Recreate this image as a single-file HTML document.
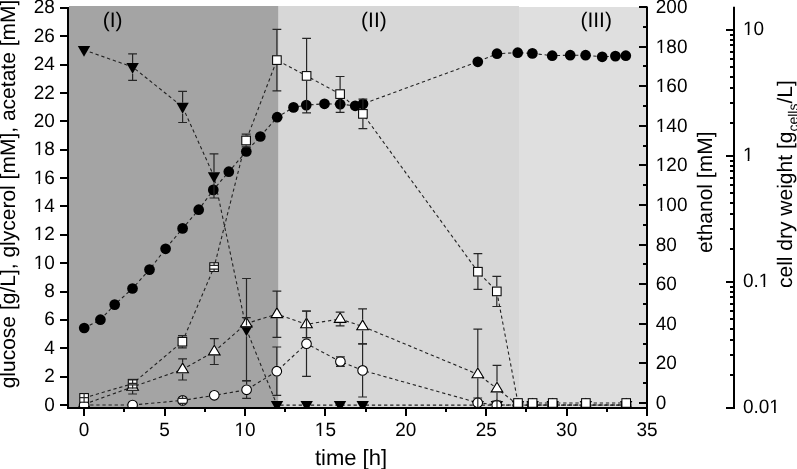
<!DOCTYPE html>
<html><head><meta charset="utf-8"><style>
html,body{margin:0;padding:0;background:#fff;}
body{width:797px;height:469px;overflow:hidden;}
svg{display:block;}
text{text-rendering:geometricPrecision;}
</style></head><body>
<svg width="797" height="469" viewBox="0 0 797 469">
<defs><clipPath id="pc"><rect x="69" y="5" width="577.5" height="402.3"/></clipPath></defs>
<rect x="69" y="6" width="209.6" height="401.3" fill="#a4a4a4"/>
<rect x="278.6" y="6" width="240.4" height="401.3" fill="#d7d7d7"/>
<rect x="519" y="7" width="127.2" height="400.3" fill="#dfdfdf"/>
<g clip-path="url(#pc)">
<polyline points="84.1,405.0 132.6,405.0 182.6,400.4 214.3,395.3 246.6,389.8 276.8,371.2 306.5,343.7 340.4,361.6 362.6,370.4 477.7,402.7 496.7,405.0 518.0,405.0 532.6,405.0 552.7,405.0 585.9,405.0 626.2,405.0" fill="none" stroke="#222" stroke-width="1.1" stroke-dasharray="3.3 2.8"/>
<polyline points="84.1,404.3 132.6,386.9 182.6,369.4 214.3,351.6 246.3,323.5 276.9,314.2 306.5,324.3 340.1,319.0 362.6,326.4 477.8,374.3 497.0,388.5 518.0,405.0 532.6,405.0 552.7,405.0 585.9,405.0 626.2,405.0" fill="none" stroke="#222" stroke-width="1.1" stroke-dasharray="3.3 2.8"/>
<polyline points="84.1,397.9 132.6,383.7 182.4,341.7 214.1,267.1 246.1,140.5 276.9,60.1 306.6,75.9 340.1,94.1 362.9,113.9 477.9,271.7 496.8,291.4 518.0,403.0 532.6,403.0 552.7,403.0 585.9,403.0 626.2,403.0" fill="none" stroke="#222" stroke-width="1.1" stroke-dasharray="3.3 2.8"/>
<polyline points="84.0,50.0 132.6,67.0 182.6,106.9 214.0,176.4 246.5,329.5 277.0,405.1 306.7,405.1 340.0,405.1 362.7,405.1 477.8,405.1 496.9,405.1 518.0,405.1 532.6,405.1 552.7,405.1 585.9,405.1 626.2,405.1" fill="none" stroke="#222" stroke-width="1.1" stroke-dasharray="3.3 2.8"/>
<polyline points="84.2,328.0 100.4,319.7 114.7,304.6 132.5,288.5 149.5,269.6 165.6,248.8 182.6,228.4 198.7,209.7 213.3,189.9 228.8,171.7 246.3,151.5 260.3,136.5 277.2,117.2 293.5,107.4 306.3,105.1 324.5,103.8 340.2,104.2 355.2,105.8 363.0,103.9 477.8,61.8 497.0,53.7 517.7,52.7 532.4,53.4 552.2,55.7 570.2,55.2 585.6,55.2 602.2,56.8 615.4,56.1 625.8,55.7" fill="none" stroke="#222" stroke-width="1.1" stroke-dasharray="3.3 2.8"/>
<path d="M77.8 45.9H90.2L84.0 56.8Z" fill="#000"/>
<path d="M126.4 62.9H138.8L132.6 73.8Z" fill="#000"/>
<path d="M176.4 102.8H188.8L182.6 113.7Z" fill="#000"/>
<path d="M207.8 172.3H220.2L214.0 183.2Z" fill="#000"/>
<path d="M240.3 325.4H252.7L246.5 336.3Z" fill="#000"/>
<path d="M270.8 401.0H283.2L277.0 411.9Z" fill="#000"/>
<path d="M300.5 401.0H312.9L306.7 411.9Z" fill="#000"/>
<path d="M333.8 401.0H346.2L340.0 411.9Z" fill="#000"/>
<path d="M356.5 401.0H368.9L362.7 411.9Z" fill="#000"/>
<path d="M471.6 401.0H484.0L477.8 411.9Z" fill="#000"/>
<path d="M490.7 401.0H503.1L496.9 411.9Z" fill="#000"/>
<path d="M511.8 401.0H524.2L518.0 411.9Z" fill="#000"/>
<path d="M526.4 401.0H538.8L532.6 411.9Z" fill="#000"/>
<path d="M546.5 401.0H558.9L552.7 411.9Z" fill="#000"/>
<path d="M579.7 401.0H592.1L585.9 411.9Z" fill="#000"/>
<path d="M620.0 401.0H632.4L626.2 411.9Z" fill="#000"/>
<path d="M84.1 398.0L89.9 407.7H78.3Z" fill="#fff" stroke="#000" stroke-width="1.1" stroke-linejoin="miter"/>
<path d="M132.6 380.6L138.4 390.3H126.8Z" fill="#fff" stroke="#000" stroke-width="1.1" stroke-linejoin="miter"/>
<path d="M182.6 363.1L188.4 372.8H176.8Z" fill="#fff" stroke="#000" stroke-width="1.1" stroke-linejoin="miter"/>
<path d="M214.3 345.2L220.1 354.9H208.5Z" fill="#fff" stroke="#000" stroke-width="1.1" stroke-linejoin="miter"/>
<path d="M246.3 317.2L252.1 326.9H240.5Z" fill="#fff" stroke="#000" stroke-width="1.1" stroke-linejoin="miter"/>
<path d="M276.9 307.9L282.7 317.6H271.1Z" fill="#fff" stroke="#000" stroke-width="1.1" stroke-linejoin="miter"/>
<path d="M306.5 318.0L312.3 327.7H300.7Z" fill="#fff" stroke="#000" stroke-width="1.1" stroke-linejoin="miter"/>
<path d="M340.1 312.7L345.9 322.4H334.3Z" fill="#fff" stroke="#000" stroke-width="1.1" stroke-linejoin="miter"/>
<path d="M362.6 320.1L368.4 329.8H356.8Z" fill="#fff" stroke="#000" stroke-width="1.1" stroke-linejoin="miter"/>
<path d="M477.8 368.0L483.6 377.7H472.0Z" fill="#fff" stroke="#000" stroke-width="1.1" stroke-linejoin="miter"/>
<path d="M497.0 382.2L502.8 391.9H491.2Z" fill="#fff" stroke="#000" stroke-width="1.1" stroke-linejoin="miter"/>
<path d="M518.0 398.7L523.8 408.4H512.2Z" fill="#fff" stroke="#000" stroke-width="1.1" stroke-linejoin="miter"/>
<path d="M532.6 398.7L538.4 408.4H526.8Z" fill="#fff" stroke="#000" stroke-width="1.1" stroke-linejoin="miter"/>
<path d="M552.7 398.7L558.5 408.4H546.9Z" fill="#fff" stroke="#000" stroke-width="1.1" stroke-linejoin="miter"/>
<path d="M585.9 398.7L591.7 408.4H580.1Z" fill="#fff" stroke="#000" stroke-width="1.1" stroke-linejoin="miter"/>
<path d="M626.2 398.7L632.0 408.4H620.4Z" fill="#fff" stroke="#000" stroke-width="1.1" stroke-linejoin="miter"/>
<circle cx="84.1" cy="405.0" r="4.8" fill="#fff" stroke="#000" stroke-width="1.1"/>
<circle cx="132.6" cy="405.0" r="4.8" fill="#fff" stroke="#000" stroke-width="1.1"/>
<circle cx="182.6" cy="400.4" r="4.8" fill="#fff" stroke="#000" stroke-width="1.1"/>
<circle cx="214.3" cy="395.3" r="4.8" fill="#fff" stroke="#000" stroke-width="1.1"/>
<circle cx="246.6" cy="389.8" r="4.8" fill="#fff" stroke="#000" stroke-width="1.1"/>
<circle cx="276.8" cy="371.2" r="4.8" fill="#fff" stroke="#000" stroke-width="1.1"/>
<circle cx="306.5" cy="343.7" r="4.8" fill="#fff" stroke="#000" stroke-width="1.1"/>
<circle cx="340.4" cy="361.6" r="4.8" fill="#fff" stroke="#000" stroke-width="1.1"/>
<circle cx="362.6" cy="370.4" r="4.8" fill="#fff" stroke="#000" stroke-width="1.1"/>
<circle cx="477.7" cy="402.7" r="4.8" fill="#fff" stroke="#000" stroke-width="1.1"/>
<circle cx="496.7" cy="405.0" r="4.8" fill="#fff" stroke="#000" stroke-width="1.1"/>
<circle cx="518.0" cy="405.0" r="4.8" fill="#fff" stroke="#000" stroke-width="1.1"/>
<circle cx="532.6" cy="405.0" r="4.8" fill="#fff" stroke="#000" stroke-width="1.1"/>
<circle cx="552.7" cy="405.0" r="4.8" fill="#fff" stroke="#000" stroke-width="1.1"/>
<circle cx="585.9" cy="405.0" r="4.8" fill="#fff" stroke="#000" stroke-width="1.1"/>
<circle cx="626.2" cy="405.0" r="4.8" fill="#fff" stroke="#000" stroke-width="1.1"/>
<rect x="79.80" y="393.60" width="8.6" height="8.6" fill="#fff" stroke="#000" stroke-width="1.05"/>
<rect x="128.30" y="379.40" width="8.6" height="8.6" fill="#fff" stroke="#000" stroke-width="1.05"/>
<rect x="178.10" y="337.40" width="8.6" height="8.6" fill="#fff" stroke="#000" stroke-width="1.05"/>
<rect x="209.80" y="262.80" width="8.6" height="8.6" fill="#fff" stroke="#000" stroke-width="1.05"/>
<rect x="241.80" y="136.20" width="8.6" height="8.6" fill="#fff" stroke="#000" stroke-width="1.05"/>
<rect x="272.60" y="55.80" width="8.6" height="8.6" fill="#fff" stroke="#000" stroke-width="1.05"/>
<rect x="302.30" y="71.60" width="8.6" height="8.6" fill="#fff" stroke="#000" stroke-width="1.05"/>
<rect x="335.80" y="89.80" width="8.6" height="8.6" fill="#fff" stroke="#000" stroke-width="1.05"/>
<rect x="358.60" y="109.60" width="8.6" height="8.6" fill="#fff" stroke="#000" stroke-width="1.05"/>
<rect x="473.60" y="267.40" width="8.6" height="8.6" fill="#fff" stroke="#000" stroke-width="1.05"/>
<rect x="492.50" y="287.10" width="8.6" height="8.6" fill="#fff" stroke="#000" stroke-width="1.05"/>
<rect x="513.70" y="398.70" width="8.6" height="8.6" fill="#fff" stroke="#000" stroke-width="1.05"/>
<rect x="528.30" y="398.70" width="8.6" height="8.6" fill="#fff" stroke="#000" stroke-width="1.05"/>
<rect x="548.40" y="398.70" width="8.6" height="8.6" fill="#fff" stroke="#000" stroke-width="1.05"/>
<rect x="581.60" y="398.70" width="8.6" height="8.6" fill="#fff" stroke="#000" stroke-width="1.05"/>
<rect x="621.90" y="398.70" width="8.6" height="8.6" fill="#fff" stroke="#000" stroke-width="1.05"/>
<circle cx="84.2" cy="328.0" r="5.35" fill="#000"/>
<circle cx="100.4" cy="319.7" r="5.35" fill="#000"/>
<circle cx="114.7" cy="304.6" r="5.35" fill="#000"/>
<circle cx="132.5" cy="288.5" r="5.35" fill="#000"/>
<circle cx="149.5" cy="269.6" r="5.35" fill="#000"/>
<circle cx="165.6" cy="248.8" r="5.35" fill="#000"/>
<circle cx="182.6" cy="228.4" r="5.35" fill="#000"/>
<circle cx="198.7" cy="209.7" r="5.35" fill="#000"/>
<circle cx="213.3" cy="189.9" r="5.35" fill="#000"/>
<circle cx="228.8" cy="171.7" r="5.35" fill="#000"/>
<circle cx="246.3" cy="151.5" r="5.35" fill="#000"/>
<circle cx="260.3" cy="136.5" r="5.35" fill="#000"/>
<circle cx="277.2" cy="117.2" r="5.35" fill="#000"/>
<circle cx="293.5" cy="107.4" r="5.35" fill="#000"/>
<circle cx="306.3" cy="105.1" r="5.35" fill="#000"/>
<circle cx="324.5" cy="103.8" r="5.35" fill="#000"/>
<circle cx="340.2" cy="104.2" r="5.35" fill="#000"/>
<circle cx="355.2" cy="105.8" r="5.35" fill="#000"/>
<circle cx="363.0" cy="103.9" r="5.35" fill="#000"/>
<circle cx="477.8" cy="61.8" r="5.35" fill="#000"/>
<circle cx="497.0" cy="53.7" r="5.35" fill="#000"/>
<circle cx="517.7" cy="52.7" r="5.35" fill="#000"/>
<circle cx="532.4" cy="53.4" r="5.35" fill="#000"/>
<circle cx="552.2" cy="55.7" r="5.35" fill="#000"/>
<circle cx="570.2" cy="55.2" r="5.35" fill="#000"/>
<circle cx="585.6" cy="55.2" r="5.35" fill="#000"/>
<circle cx="602.2" cy="56.8" r="5.35" fill="#000"/>
<circle cx="615.4" cy="56.1" r="5.35" fill="#000"/>
<circle cx="625.8" cy="55.7" r="5.35" fill="#000"/>
<path d="M79.70 397.60H88.50M79.70 397.60H88.50M84.10 393.10V397.60M84.10 402.70V397.60" stroke="#262626" stroke-width="1.2" fill="none"/>
<path d="M128.20 383.30H137.00M128.20 384.80H137.00M132.60 378.90V383.30M132.60 388.50V384.80" stroke="#262626" stroke-width="1.2" fill="none"/>
<path d="M178.00 335.70H186.80M178.00 347.80H186.80M182.40 336.90V335.70M182.40 346.50V347.80" stroke="#262626" stroke-width="1.2" fill="none"/>
<path d="M209.70 265.30H218.50M209.70 269.10H218.50M214.10 262.30V265.30M214.10 271.90V269.10" stroke="#262626" stroke-width="1.2" fill="none"/>
<path d="M241.70 134.10H250.50M241.70 146.90H250.50M246.10 135.70V134.10M246.10 145.30V146.90" stroke="#262626" stroke-width="1.2" fill="none"/>
<path d="M272.50 29.30H281.30M272.50 90.90H281.30M276.90 55.30V29.30M276.90 64.90V90.90" stroke="#262626" stroke-width="1.2" fill="none"/>
<path d="M302.20 38.40H311.00M302.20 112.90H311.00M306.60 71.10V38.40M306.60 80.70V112.90" stroke="#262626" stroke-width="1.2" fill="none"/>
<path d="M335.70 76.50H344.50M335.70 112.40H344.50M340.10 89.30V76.50M340.10 98.90V112.40" stroke="#262626" stroke-width="1.2" fill="none"/>
<path d="M358.50 99.20H367.30M358.50 128.60H367.30M362.90 109.10V99.20M362.90 118.70V128.60" stroke="#262626" stroke-width="1.2" fill="none"/>
<path d="M473.50 253.60H482.30M473.50 289.40H482.30M477.90 266.90V253.60M477.90 276.50V289.40" stroke="#262626" stroke-width="1.2" fill="none"/>
<path d="M492.40 276.30H501.20M492.40 306.50H501.20M496.80 286.60V276.30M496.80 296.20V306.50" stroke="#262626" stroke-width="1.2" fill="none"/>
<path d="M128.20 379.80H137.00M128.20 394.00H137.00M132.60 390.90V394.00" stroke="#262626" stroke-width="1.2" fill="none"/>
<path d="M178.20 358.90H187.00M178.20 380.00H187.00M182.60 362.55V358.90M182.60 373.45V380.00" stroke="#262626" stroke-width="1.2" fill="none"/>
<path d="M209.90 338.60H218.70M209.90 364.50H218.70M214.30 344.65V338.60M214.30 355.55V364.50" stroke="#262626" stroke-width="1.2" fill="none"/>
<path d="M241.90 317.60H250.70M241.90 326.90H250.70M246.30 316.60V317.60M246.30 327.50V326.90" stroke="#262626" stroke-width="1.2" fill="none"/>
<path d="M272.50 291.20H281.30M272.50 337.30H281.30M276.90 307.35V291.20M276.90 318.25V337.30" stroke="#262626" stroke-width="1.2" fill="none"/>
<path d="M302.10 311.00H310.90M302.10 337.60H310.90M306.50 317.40V311.00M306.50 328.30V337.60" stroke="#262626" stroke-width="1.2" fill="none"/>
<path d="M335.70 312.20H344.50M335.70 325.80H344.50M340.10 323.00V325.80" stroke="#262626" stroke-width="1.2" fill="none"/>
<path d="M358.20 308.90H367.00M358.20 343.90H367.00M362.60 319.50V308.90M362.60 330.40V343.90" stroke="#262626" stroke-width="1.2" fill="none"/>
<path d="M473.40 329.20H482.20M473.40 419.40H482.20M477.80 367.40V329.20M477.80 378.30V419.40" stroke="#262626" stroke-width="1.2" fill="none"/>
<path d="M492.60 365.40H501.40M492.60 411.60H501.40M497.00 381.60V365.40M497.00 392.50V411.60" stroke="#262626" stroke-width="1.2" fill="none"/>
<path d="M178.15 398.40H186.95M178.15 403.40H186.95M182.55 395.05V398.40M182.55 405.75V403.40" stroke="#262626" stroke-width="1.2" fill="none"/>
<path d="M242.20 380.60H251.00M242.20 398.30H251.00M246.60 384.45V380.60M246.60 395.15V398.30" stroke="#262626" stroke-width="1.2" fill="none"/>
<path d="M272.40 347.00H281.20M272.40 395.40H281.20M276.80 365.85V347.00M276.80 376.55V395.40" stroke="#262626" stroke-width="1.2" fill="none"/>
<path d="M302.10 311.10H310.90M302.10 376.30H310.90M306.50 338.35V311.10M306.50 349.05V376.30" stroke="#262626" stroke-width="1.2" fill="none"/>
<path d="M336.00 356.90H344.80M336.00 366.30H344.80M340.40 356.25V356.90M340.40 366.95V366.30" stroke="#262626" stroke-width="1.2" fill="none"/>
<path d="M358.20 343.80H367.00M358.20 397.00H367.00M362.60 365.05V343.80M362.60 375.75V397.00" stroke="#262626" stroke-width="1.2" fill="none"/>
<path d="M473.30 398.00H482.10M473.30 407.50H482.10M477.70 397.35V398.00M477.70 408.05V407.50" stroke="#262626" stroke-width="1.2" fill="none"/>
<path d="M492.30 401.00H501.10M492.30 409.00H501.10M496.70 399.65V401.00M496.70 410.35V409.00" stroke="#262626" stroke-width="1.2" fill="none"/>
<path d="M128.20 53.80H137.00M128.20 80.30H137.00M132.60 62.90V53.80M132.60 73.80V80.30" stroke="#262626" stroke-width="1.2" fill="none"/>
<path d="M178.20 91.40H187.00M178.20 122.50H187.00M182.60 102.80V91.40M182.60 113.70V122.50" stroke="#262626" stroke-width="1.2" fill="none"/>
<path d="M209.60 153.80H218.40M209.60 198.00H218.40M214.00 172.30V153.80M214.00 183.20V198.00" stroke="#262626" stroke-width="1.2" fill="none"/>
<path d="M242.10 278.50H250.90M242.10 381.00H250.90M246.50 325.40V278.50M246.50 336.30V381.00" stroke="#262626" stroke-width="1.2" fill="none"/>
</g>
<path d="M68 7V409M67 408H648" stroke="#000" stroke-width="2" fill="none"/>
<path d="M647 6.5V416" stroke="#000" stroke-width="2" fill="none"/>
<path d="M734 6.8V409" stroke="#000" stroke-width="2" fill="none"/>
<path d="M60 405H68M60 377H68M60 348H68M60 320H68M60 292H68M60 263H68M60 235H68M60 206H68M60 178H68M60 150H68M60 121H68M60 93H68M60 65H68M60 36H68M60 8H68M84 408V416M124 408V412M165 408V416M205 408V412M245 408V416M285 408V412M325 408V416M366 408V412M406 408V416M446 408V412M486 408V416M526 408V412M567 408V416M607 408V412M647 408V416M639 403H647M643 383H647M639 363H647M643 344H647M639 324H647M643 304H647M639 284H647M643 264H647M639 245H647M643 225H647M639 205H647M643 185H647M639 165H647M643 146H647M639 126H647M643 106H647M639 86H647M643 66H647M639 47H647M643 27H647M639 7H647M726 408H734M730 375H734M730 355H734M730 340H734M730 329H734M730 319H734M730 311H734M730 304H734M730 297H734M730 292H734M730 287H734M726 282H734M730 249H734M730 229H734M730 214H734M730 203H734M730 193H734M730 185H734M730 178H734M730 171H734M730 166H734M730 161H734M726 156H734M730 123H734M730 103H734M730 88H734M730 77H734M730 67H734M730 59H734M730 52H734M730 45H734M730 40H734M730 35H734M726 30H734" stroke="#000" stroke-width="2" fill="none"/>
<g font-family="Liberation Sans, Arial, sans-serif" font-size="19" fill="#000">
<text x="54.80" y="410.50" text-anchor="end" transform="matrix(1 0 0 1.02 0 -8.210)">0</text>
<text x="54.80" y="382.14" text-anchor="end" transform="matrix(1 0 0 1.02 0 -7.643)">2</text>
<text x="54.80" y="353.78" text-anchor="end" transform="matrix(1 0 0 1.02 0 -7.076)">4</text>
<text x="54.80" y="325.43" text-anchor="end" transform="matrix(1 0 0 1.02 0 -6.509)">6</text>
<text x="54.80" y="297.07" text-anchor="end" transform="matrix(1 0 0 1.02 0 -5.941)">8</text>
<text x="54.80" y="268.71" text-anchor="end" transform="matrix(1 0 0 1.02 0 -5.374)">10</text>
<text x="54.80" y="240.35" text-anchor="end" transform="matrix(1 0 0 1.02 0 -4.807)">12</text>
<text x="54.80" y="211.99" text-anchor="end" transform="matrix(1 0 0 1.02 0 -4.240)">14</text>
<text x="54.80" y="183.64" text-anchor="end" transform="matrix(1 0 0 1.02 0 -3.673)">16</text>
<text x="54.80" y="155.28" text-anchor="end" transform="matrix(1 0 0 1.02 0 -3.106)">18</text>
<text x="54.80" y="126.92" text-anchor="end" transform="matrix(1 0 0 1.02 0 -2.538)">20</text>
<text x="54.80" y="98.56" text-anchor="end" transform="matrix(1 0 0 1.02 0 -1.971)">22</text>
<text x="54.80" y="70.20" text-anchor="end" transform="matrix(1 0 0 1.02 0 -1.404)">24</text>
<text x="54.80" y="41.85" text-anchor="end" transform="matrix(1 0 0 1.02 0 -0.837)">26</text>
<text x="54.80" y="13.49" text-anchor="end" transform="matrix(1 0 0 1.02 0 -0.270)">28</text>
<text x="84.10" y="436.30" text-anchor="middle" transform="matrix(1 0 0 1.02 0 -8.726)">0</text>
<text x="164.53" y="436.30" text-anchor="middle" transform="matrix(1 0 0 1.02 0 -8.726)">5</text>
<text x="244.96" y="436.30" text-anchor="middle" transform="matrix(1 0 0 1.02 0 -8.726)">10</text>
<text x="325.39" y="436.30" text-anchor="middle" transform="matrix(1 0 0 1.02 0 -8.726)">15</text>
<text x="405.82" y="436.30" text-anchor="middle" transform="matrix(1 0 0 1.02 0 -8.726)">20</text>
<text x="486.25" y="436.30" text-anchor="middle" transform="matrix(1 0 0 1.02 0 -8.726)">25</text>
<text x="566.68" y="436.30" text-anchor="middle" transform="matrix(1 0 0 1.02 0 -8.726)">30</text>
<text x="647.11" y="436.30" text-anchor="middle" transform="matrix(1 0 0 1.02 0 -8.726)">35</text>
<text x="655.80" y="408.90" transform="matrix(1 0 0 1.02 0 -8.178)">0</text>
<text x="655.80" y="369.30" transform="matrix(1 0 0 1.02 0 -7.386)">20</text>
<text x="655.80" y="329.70" transform="matrix(1 0 0 1.02 0 -6.594)">40</text>
<text x="655.80" y="290.10" transform="matrix(1 0 0 1.02 0 -5.802)">60</text>
<text x="655.80" y="250.50" transform="matrix(1 0 0 1.02 0 -5.010)">80</text>
<text x="655.80" y="210.90" transform="matrix(1 0 0 1.02 0 -4.218)">100</text>
<text x="655.80" y="171.30" transform="matrix(1 0 0 1.02 0 -3.426)">120</text>
<text x="655.80" y="131.70" transform="matrix(1 0 0 1.02 0 -2.634)">140</text>
<text x="655.80" y="92.10" transform="matrix(1 0 0 1.02 0 -1.842)">160</text>
<text x="655.80" y="52.50" transform="matrix(1 0 0 1.02 0 -1.050)">180</text>
<text x="655.80" y="12.90" transform="matrix(1 0 0 1.02 0 -0.258)">200</text>
<text x="742.90" y="413.40" transform="matrix(1 0 0 1.02 0 -8.268)">0.01</text>
<text x="742.90" y="287.40" transform="matrix(1 0 0 1.02 0 -5.748)">0.1</text>
<text x="742.90" y="161.40" transform="matrix(1 0 0 1.02 0 -3.228)">1</text>
<text x="742.90" y="35.40" transform="matrix(1 0 0 1.02 0 -0.708)">10</text>
</g>
<path d="M34.26 266H38.44V269H34.26ZM40.12 266H44.16V269H40.12ZM34.26 238H38.44V241H34.26ZM40.12 238H44.16V241H40.12ZM34.26 209H38.44V212H34.26ZM40.12 209H44.16V212H40.12ZM34.26 181H38.44V184H34.26ZM40.12 181H44.16V184H40.12ZM34.26 153H38.44V156H34.26ZM40.12 153H44.16V156H40.12ZM234.99 434H239.17V437H234.99ZM240.85 434H244.89V437H240.85ZM315.42 434H319.60V437H315.42ZM321.28 434H325.32V437H321.28ZM656.40 208H660.58V211H656.40ZM662.26 208H666.30V211H662.26ZM656.40 169H660.58V172H656.40ZM662.26 169H666.30V172H662.26ZM656.40 129H660.58V132H656.40ZM662.26 129H666.30V132H662.26ZM656.40 90H660.58V93H656.40ZM662.26 90H666.30V93H662.26ZM656.40 50H660.58V53H656.40ZM662.26 50H666.30V53H662.26ZM769.91 411H774.08V414H769.91ZM775.76 411H779.81V414H775.76ZM759.34 285H763.52V288H759.34ZM765.20 285H769.24V288H765.20ZM743.50 159H747.68V162H743.50ZM749.36 159H753.40V162H749.36ZM743.50 33H747.68V36H743.50ZM749.36 33H753.40V36H749.36Z" fill="#fff"/>
<g font-family="Liberation Sans, Arial, sans-serif" font-size="21" fill="#000">
<text x="112.7" y="27.2" text-anchor="middle">(I)</text>
<text x="373.9" y="27.2" text-anchor="middle">(II)</text>
<text x="596.2" y="27.2" text-anchor="middle">(III)</text>
</g>
<g font-family="Liberation Sans, Arial, sans-serif" font-size="21" fill="#000">
<text x="351" y="464.9" text-anchor="middle" font-size="22">time [h]</text>
<text transform="translate(15.2 194) rotate(-90)" text-anchor="middle">glucose [g/L], glycerol [mM], acetate [mM]</text>
<text transform="translate(711.7 192.2) rotate(-90)" text-anchor="middle">ethanol [mM]</text>
<text transform="translate(791.5 184.1) rotate(-90)" text-anchor="middle">cell dry weight [g<tspan font-size="14" dy="6">cells</tspan><tspan dy="-6">/L]</tspan></text>
</g>
</svg>
</body></html>
